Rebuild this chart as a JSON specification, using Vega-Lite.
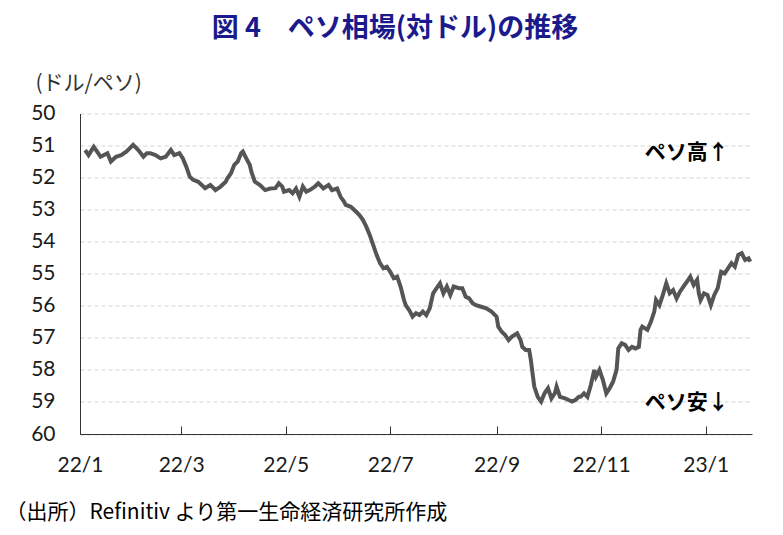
{
  "$schema": "https://vega.github.io/schema/vega-lite/v6.json",
  "description": "Peso vs USD, 2022/1 - 2023/1",
  "background": "white",
  "autosize": {"type": "none"},
  "width": 672,
  "height": 320.5,
  "padding": {"left": 80, "top": 113.5, "right": 31, "bottom": 101},
  "title": {
    "text": "図 4　ペソ相場(対ドル)の推移",
    "font": "Noto Sans CJK JP",
    "fontSize": 27,
    "fontWeight": "bold",
    "color": "#1a1a8c",
    "anchor": "middle",
    "frame": "group",
    "dx": -21,
    "offset": 30
  },
  "config": {
    "view": {"stroke": null},
    "font": "Noto Sans CJK JP",
    "axis": {"labelOverlap": false, "labelFlush": false},
    "axisY": {"labelOverlap": false}
  },
  "datasets": {
    "peso": [
      {"date": "2022-01-04", "rate": 51.14}, {"date": "2022-01-06", "rate": 51.30},
      {"date": "2022-01-09", "rate": 51.04}, {"date": "2022-01-11", "rate": 51.19},
      {"date": "2022-01-13", "rate": 51.35}, {"date": "2022-01-17", "rate": 51.24},
      {"date": "2022-01-19", "rate": 51.50}, {"date": "2022-01-22", "rate": 51.35},
      {"date": "2022-01-25", "rate": 51.30}, {"date": "2022-01-28", "rate": 51.19},
      {"date": "2022-02-01", "rate": 50.98}, {"date": "2022-02-04", "rate": 51.14},
      {"date": "2022-02-07", "rate": 51.35}, {"date": "2022-02-09", "rate": 51.24},
      {"date": "2022-02-11", "rate": 51.24}, {"date": "2022-02-14", "rate": 51.30},
      {"date": "2022-02-17", "rate": 51.40}, {"date": "2022-02-20", "rate": 51.35},
      {"date": "2022-02-23", "rate": 51.14}, {"date": "2022-02-25", "rate": 51.30},
      {"date": "2022-02-28", "rate": 51.24}, {"date": "2022-03-02", "rate": 51.40},
      {"date": "2022-03-04", "rate": 51.66}, {"date": "2022-03-06", "rate": 51.97},
      {"date": "2022-03-08", "rate": 52.07}, {"date": "2022-03-11", "rate": 52.13},
      {"date": "2022-03-15", "rate": 52.33}, {"date": "2022-03-18", "rate": 52.23},
      {"date": "2022-03-20", "rate": 52.33}, {"date": "2022-03-21", "rate": 52.39},
      {"date": "2022-03-24", "rate": 52.28}, {"date": "2022-03-27", "rate": 52.13},
      {"date": "2022-03-28", "rate": 52.02}, {"date": "2022-03-30", "rate": 51.87},
      {"date": "2022-04-01", "rate": 51.60}, {"date": "2022-04-03", "rate": 51.50},
      {"date": "2022-04-05", "rate": 51.24}, {"date": "2022-04-06", "rate": 51.19},
      {"date": "2022-04-08", "rate": 51.40}, {"date": "2022-04-10", "rate": 51.60},
      {"date": "2022-04-11", "rate": 51.82}, {"date": "2022-04-13", "rate": 52.13},
      {"date": "2022-04-16", "rate": 52.23}, {"date": "2022-04-19", "rate": 52.39},
      {"date": "2022-04-22", "rate": 52.34}, {"date": "2022-04-25", "rate": 52.33},
      {"date": "2022-04-27", "rate": 52.18}, {"date": "2022-04-29", "rate": 52.28},
      {"date": "2022-04-30", "rate": 52.44}, {"date": "2022-05-03", "rate": 52.39},
      {"date": "2022-05-05", "rate": 52.49}, {"date": "2022-05-07", "rate": 52.34},
      {"date": "2022-05-09", "rate": 52.60}, {"date": "2022-05-11", "rate": 52.28},
      {"date": "2022-05-13", "rate": 52.44}, {"date": "2022-05-15", "rate": 52.39},
      {"date": "2022-05-18", "rate": 52.28}, {"date": "2022-05-20", "rate": 52.18},
      {"date": "2022-05-23", "rate": 52.34}, {"date": "2022-05-26", "rate": 52.23},
      {"date": "2022-05-28", "rate": 52.39}, {"date": "2022-05-31", "rate": 52.34},
      {"date": "2022-06-02", "rate": 52.60}, {"date": "2022-06-04", "rate": 52.75},
      {"date": "2022-06-05", "rate": 52.85}, {"date": "2022-06-08", "rate": 52.91},
      {"date": "2022-06-10", "rate": 53.01}, {"date": "2022-06-13", "rate": 53.17},
      {"date": "2022-06-15", "rate": 53.32}, {"date": "2022-06-17", "rate": 53.53},
      {"date": "2022-06-19", "rate": 53.79}, {"date": "2022-06-21", "rate": 54.10},
      {"date": "2022-06-23", "rate": 54.41}, {"date": "2022-06-25", "rate": 54.67},
      {"date": "2022-06-27", "rate": 54.83}, {"date": "2022-06-29", "rate": 54.78},
      {"date": "2022-07-01", "rate": 54.94}, {"date": "2022-07-03", "rate": 55.14},
      {"date": "2022-07-05", "rate": 55.09}, {"date": "2022-07-07", "rate": 55.40},
      {"date": "2022-07-09", "rate": 55.82}, {"date": "2022-07-10", "rate": 55.98},
      {"date": "2022-07-12", "rate": 56.13}, {"date": "2022-07-14", "rate": 56.34},
      {"date": "2022-07-16", "rate": 56.23}, {"date": "2022-07-18", "rate": 56.29},
      {"date": "2022-07-20", "rate": 56.18}, {"date": "2022-07-22", "rate": 56.29},
      {"date": "2022-07-24", "rate": 56.08}, {"date": "2022-07-26", "rate": 55.61},
      {"date": "2022-07-28", "rate": 55.45}, {"date": "2022-07-30", "rate": 55.30},
      {"date": "2022-08-01", "rate": 55.61}, {"date": "2022-08-03", "rate": 55.40},
      {"date": "2022-08-05", "rate": 55.66}, {"date": "2022-08-07", "rate": 55.40},
      {"date": "2022-08-10", "rate": 55.45}, {"date": "2022-08-12", "rate": 55.45},
      {"date": "2022-08-14", "rate": 55.72}, {"date": "2022-08-16", "rate": 55.77},
      {"date": "2022-08-18", "rate": 55.92}, {"date": "2022-08-20", "rate": 55.98},
      {"date": "2022-08-23", "rate": 56.03}, {"date": "2022-08-26", "rate": 56.08},
      {"date": "2022-08-29", "rate": 56.18}, {"date": "2022-09-01", "rate": 56.34},
      {"date": "2022-09-02", "rate": 56.65}, {"date": "2022-09-04", "rate": 56.81},
      {"date": "2022-09-06", "rate": 56.91}, {"date": "2022-09-08", "rate": 57.07},
      {"date": "2022-09-10", "rate": 56.96}, {"date": "2022-09-13", "rate": 56.86},
      {"date": "2022-09-15", "rate": 57.07}, {"date": "2022-09-16", "rate": 57.28},
      {"date": "2022-09-18", "rate": 57.38}, {"date": "2022-09-20", "rate": 57.38},
      {"date": "2022-09-21", "rate": 57.69}, {"date": "2022-09-22", "rate": 58.11},
      {"date": "2022-09-23", "rate": 58.52}, {"date": "2022-09-25", "rate": 58.84},
      {"date": "2022-09-27", "rate": 58.99}, {"date": "2022-09-29", "rate": 58.73},
      {"date": "2022-10-01", "rate": 58.57}, {"date": "2022-10-03", "rate": 58.89},
      {"date": "2022-10-05", "rate": 58.73}, {"date": "2022-10-06", "rate": 58.52},
      {"date": "2022-10-08", "rate": 58.84}, {"date": "2022-10-11", "rate": 58.89},
      {"date": "2022-10-13", "rate": 58.94}, {"date": "2022-10-15", "rate": 58.99},
      {"date": "2022-10-17", "rate": 58.94}, {"date": "2022-10-19", "rate": 58.84},
      {"date": "2022-10-20", "rate": 58.84}, {"date": "2022-10-22", "rate": 58.73},
      {"date": "2022-10-24", "rate": 58.84}, {"date": "2022-10-26", "rate": 58.47},
      {"date": "2022-10-28", "rate": 58.00}, {"date": "2022-10-29", "rate": 58.21},
      {"date": "2022-10-31", "rate": 58.00}, {"date": "2022-11-02", "rate": 58.31},
      {"date": "2022-11-04", "rate": 58.73}, {"date": "2022-11-06", "rate": 58.57},
      {"date": "2022-11-08", "rate": 58.36}, {"date": "2022-11-10", "rate": 58.00},
      {"date": "2022-11-11", "rate": 57.33}, {"date": "2022-11-13", "rate": 57.17},
      {"date": "2022-11-15", "rate": 57.22}, {"date": "2022-11-17", "rate": 57.38},
      {"date": "2022-11-19", "rate": 57.28}, {"date": "2022-11-21", "rate": 57.33},
      {"date": "2022-11-23", "rate": 57.28}, {"date": "2022-11-24", "rate": 56.75},
      {"date": "2022-11-25", "rate": 56.65}, {"date": "2022-11-28", "rate": 56.75},
      {"date": "2022-11-30", "rate": 56.50}, {"date": "2022-12-02", "rate": 56.18},
      {"date": "2022-12-03", "rate": 55.82}, {"date": "2022-12-05", "rate": 55.98},
      {"date": "2022-12-07", "rate": 55.66}, {"date": "2022-12-09", "rate": 55.30},
      {"date": "2022-12-11", "rate": 55.61}, {"date": "2022-12-13", "rate": 55.51},
      {"date": "2022-12-15", "rate": 55.77}, {"date": "2022-12-17", "rate": 55.56},
      {"date": "2022-12-19", "rate": 55.40}, {"date": "2022-12-21", "rate": 55.25},
      {"date": "2022-12-23", "rate": 55.09}, {"date": "2022-12-25", "rate": 55.35},
      {"date": "2022-12-27", "rate": 55.19}, {"date": "2022-12-28", "rate": 55.61},
      {"date": "2022-12-29", "rate": 55.82}, {"date": "2022-12-31", "rate": 55.61},
      {"date": "2023-01-02", "rate": 55.66}, {"date": "2023-01-04", "rate": 55.98},
      {"date": "2023-01-06", "rate": 55.66}, {"date": "2023-01-08", "rate": 55.45},
      {"date": "2023-01-10", "rate": 54.94}, {"date": "2023-01-12", "rate": 54.99},
      {"date": "2023-01-14", "rate": 54.83}, {"date": "2023-01-16", "rate": 54.67},
      {"date": "2023-01-18", "rate": 54.78}, {"date": "2023-01-20", "rate": 54.41},
      {"date": "2023-01-22", "rate": 54.36}, {"date": "2023-01-24", "rate": 54.57},
      {"date": "2023-01-26", "rate": 54.52}, {"date": "2023-01-27", "rate": 54.62}
    ],
    "notes": [
      {"date": "2022-12-21", "rate": 51.23, "label": "ペソ高↑"},
      {"date": "2022-12-21", "rate": 59.03, "label": "ペソ安↓"}
    ]
  },
  "layer": [
    {
      "data": {"name": "peso"},
      "mark": {"type": "line", "color": "#555555", "strokeWidth": 4, "strokeJoin": "miter"},
      "encoding": {
        "x": {
          "field": "date",
          "type": "temporal",
          "scale": {
            "type": "utc",
            "domain": [
              {"year": 2022, "month": 1, "date": 1, "utc": true},
              {"year": 2023, "month": 1, "date": 28, "utc": true}
            ]
          },
          "axis": {
            "values": [
              {"year": 2022, "month": 1, "date": 1, "utc": true},
              {"year": 2022, "month": 3, "date": 1, "utc": true},
              {"year": 2022, "month": 5, "date": 1, "utc": true},
              {"year": 2022, "month": 7, "date": 1, "utc": true},
              {"year": 2022, "month": 9, "date": 1, "utc": true},
              {"year": 2022, "month": 11, "date": 1, "utc": true},
              {"year": 2023, "month": 1, "date": 1, "utc": true}
            ],
            "labelExpr": "utcFormat(datum.value, '%y/%-m')",
            "grid": false,
            "tickSize": -8,
            "tickColor": "#333333",
            "domainColor": "#333333",
            "labelFont": "Lato",
            "labelFontSize": 21,
            "labelColor": "#1a1a1a",
            "labelPadding": 28,
            "title": "（出所）Refinitiv より第一生命経済研究所作成",
            "titleFont": "Noto Sans CJK JP",
            "titleFontSize": 21,
            "titleFontWeight": "normal",
            "titleColor": "#000000",
            "titleAlign": "left",
            "titleBaseline": "middle",
            "titleX": -75,
            "titleY": 78
          }
        },
        "y": {
          "field": "rate",
          "type": "quantitative",
          "scale": {"domain": [50, 60], "reverse": true, "nice": false, "zero": false},
          "axis": {
            "values": [50, 51, 52, 53, 54, 55, 56, 57, 58, 59, 60],
            "tickCount": 11,
            "grid": true,
            "gridDash": [4, 3],
            "gridColor": "#d4d4d4",
            "ticks": false,
            "tickSize": 0,
            "domainColor": "#333333",
            "labelFont": "Lato",
            "labelFontSize": 21,
            "labelColor": "#1a1a1a",
            "labelPadding": 25,
            "labelOverlap": false,
            "title": "(ドル/ペソ)",
            "titleFont": "Noto Sans CJK JP",
            "titleFontSize": 21,
            "titleFontWeight": "normal",
            "titleColor": "#333333",
            "titleAngle": 0,
            "titleAlign": "left",
            "titleBaseline": "middle",
            "titleX": -45,
            "titleY": -30
          }
        }
      }
    },
    {
      "data": {"name": "notes"},
      "mark": {"type": "text", "font": "Noto Sans CJK JP", "fontSize": 21, "fontWeight": "bold", "color": "#000000"},
      "encoding": {
        "x": {"field": "date", "type": "temporal"},
        "y": {"field": "rate", "type": "quantitative", "axis": {"labelOverlap": false, "values": [50, 51, 52, 53, 54, 55, 56, 57, 58, 59, 60]}},
        "text": {"field": "label"}
      }
    }
  ]
}
